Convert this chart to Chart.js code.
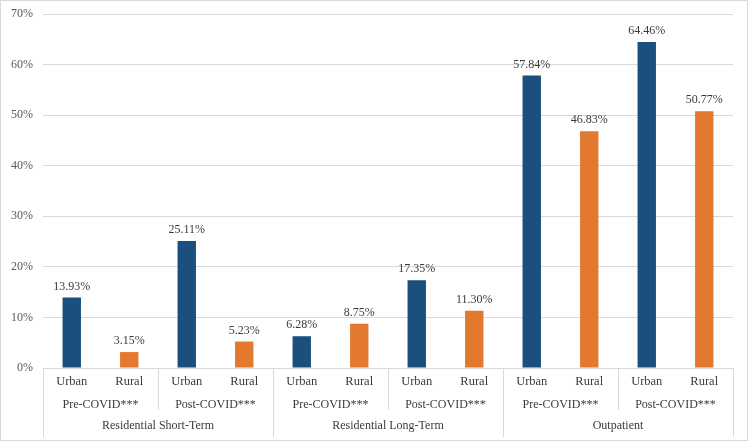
<!DOCTYPE html>
<html>
<head>
<meta charset="utf-8">
<script src="https://cdn.jsdelivr.net/npm/chart.js@4"></script>
<style>
  html, body { margin: 0; padding: 0; background: #fff; }
  #wrap { width: 748px; height: 441px; position: relative; }
</style>
</head>
<body>
<div id="wrap"><canvas id="chart"></canvas></div>
<script>
// data
const services = ["Residential Short-Term", "Residential Long-Term", "Outpatient"];
const periods = ["Pre-COVID***", "Post-COVID***"];
const areas = ["Urban", "Rural"];
const urbanValues = [13.93, 25.11, 6.28, 17.35, 57.84, 64.46];
const ruralValues = [3.15, 5.23, 8.75, 11.30, 46.83, 50.77];
const yTicks = [0, 10, 20, 30, 40, 50, 60, 70];

const blue = "#1b4f7e";
const orange = "#e3792f";
const serif = "'Liberation Serif', 'DejaVu Serif', serif";

// one bar per category, urban/rural interleaved
const labels = [];
const values = [];
const colors = [];
for (let i = 0; i < urbanValues.length; i++) {
  labels.push(areas[0], areas[1]);
  values.push(urbanValues[i], ruralValues[i]);
  colors.push(blue, orange);
}

// value labels above the bars
const barLabels = {
  id: "barLabels",
  afterDatasetsDraw(chart) {
    const ctx = chart.ctx;
    const meta = chart.getDatasetMeta(0);
    ctx.save();
    ctx.font = "12px " + serif;
    ctx.fillStyle = "#3a3a3a";
    ctx.textAlign = "center";
    ctx.textBaseline = "bottom";
    meta.data.forEach((bar, i) => {
      ctx.fillText(values[i].toFixed(2) + "%", bar.x, bar.y - 5);
    });
    ctx.restore();
  }
};

// three level category axis like the excel one
const multiAxis = {
  id: "multiAxis",
  afterDraw(chart) {
    const ctx = chart.ctx;
    const x = chart.scales.x;
    const area = chart.chartArea;
    const step = (x.getPixelForValue(1) - x.getPixelForValue(0));
    const edge = (i) => x.getPixelForValue(i) - step / 2;
    ctx.save();
    ctx.font = "12.5px " + serif;
    ctx.fillStyle = "#3a3a3a";
    ctx.textAlign = "center";
    ctx.textBaseline = "middle";
    labels.forEach((l, i) => {
      ctx.fillText(l, x.getPixelForValue(i), area.bottom + 14);
    });
    ctx.font = "12px " + serif;
    for (let g = 0; g < labels.length / 2; g++) {
      const cx = (edge(g * 2) + edge(g * 2 + 2)) / 2;
      ctx.fillText(periods[g % 2], cx, area.bottom + 37);
    }
    services.forEach((s, k) => {
      const cx = (edge(k * 4) + edge(k * 4 + 4)) / 2;
      ctx.fillText(s, cx, area.bottom + 58);
    });
    ctx.strokeStyle = "#d9d9d9";
    ctx.lineWidth = 1;
    for (let i = 0; i <= labels.length; i += 2) {
      const px = Math.round(edge(i)) + 0.5;
      const full = i % 4 === 0;
      ctx.beginPath();
      ctx.moveTo(px, area.bottom);
      ctx.lineTo(px, area.bottom + (full ? 69 : 42));
      ctx.stroke();
    }
    // outer frame
    ctx.strokeRect(0.5, 0.5, chart.width - 1, chart.height - 1);
    ctx.restore();
  }
};

new Chart(document.getElementById("chart"), {
  type: "bar",
  data: {
    labels: labels,
    datasets: [{
      data: values,
      backgroundColor: colors,
      categoryPercentage: 1,
      barPercentage: 0.32
    }]
  },
  options: {
    responsive: true,
    maintainAspectRatio: false,
    animation: false,
    layout: { padding: { top: 14, right: 15, bottom: 73, left: 0 } },
    plugins: { legend: { display: false }, tooltip: { enabled: false } },
    scales: {
      x: { display: false },
      y: {
        min: 0,
        max: 70,
        afterFit(scale) {
          scale.width = 43;
          scale.paddingTop = 0;
          scale.paddingBottom = 0;
        },
        afterBuildTicks(scale) { scale.ticks = yTicks.map(v => ({ value: v })); },
        ticks: {
          font: { family: serif, size: 12, lineHeight: 1 },
          color: "#595959",
          padding: 10,
          callback: v => v + "%"
        },
        grid: { color: "#d9d9d9", drawTicks: false },
        border: { display: false }
      }
    }
  },
  plugins: [barLabels, multiAxis]
});
</script>
</body>
</html>
